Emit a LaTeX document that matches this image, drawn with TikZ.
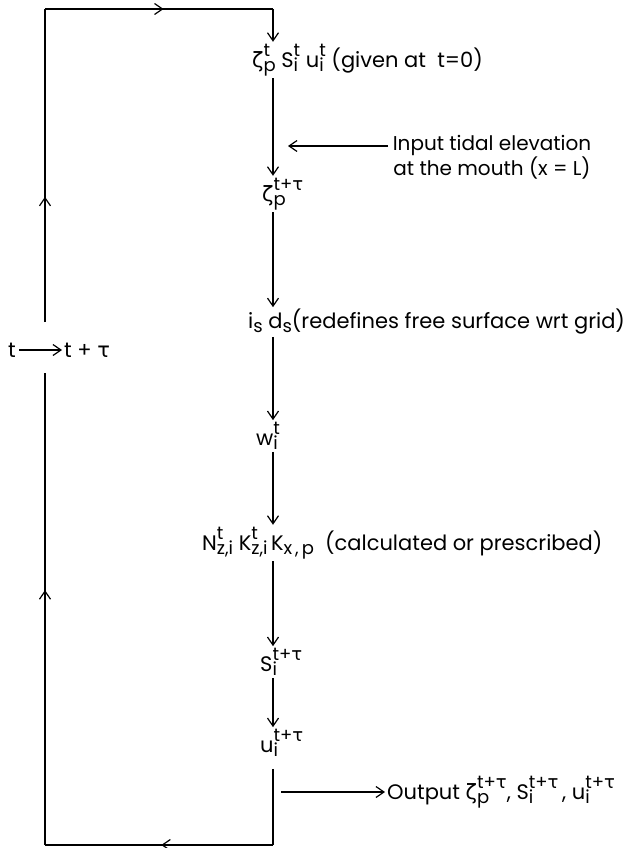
\documentclass[tikz,border=0pt]{standalone}
\usepackage{amsmath}
\usepackage{fontspec}
\setmainfont{Poppins}
\newfontfamily\grk{DejaVu Sans}
\usetikzlibrary{arrows.meta, positioning, calc, decorations.markings}

% stacked super- and subscript, set large as in hand lettering
\newcommand\sts[2]{\mbox{\fontsize{18}{18}\selectfont\ooalign{\raisebox{11pt}{#1}\hfil\cr\raisebox{-4pt}{#2}\hfil\cr}}}
\newcommand\zet{{\grk ζ}}
\newcommand\tu{{\grk τ}}

\begin{document}
\begin{tikzpicture}[
    x=1pt, y=-1pt,
    lbl/.style={inner sep=2pt, anchor=west, font=\fontsize{21}{24}\selectfont},
    flow/.style={-{Straight Barb[length=8pt,width=11pt]}, line width=1.2pt},
    loopline/.style={line width=1.2pt},
    midarr/.style={postaction={decorate}, decoration={markings,
        mark=at position #1 with {\arrow{Straight Barb[length=8pt,width=11pt]}}}}
]
\useasboundingbox (0,0) rectangle (626,848);

% main column of the scheme
\coordinate (col) at (273,0);
\node [lbl] (init) at (250,60) {\zet\sts{t}{p} S\sts{t}{i}\ u\sts{t}{i}\ (given at\ \ t=0)};
\node [lbl] (zp) at (260,194) {\zet\sts{t+\tu}{p}};
\node [lbl] (isd) at (246,322) {i\sts{}{s}\ d\sts{}{s}(redefines free surface wrt grid)};
\node [lbl] (w) at (254,436) {w\sts{t}{i}};
\node [lbl] (nk) at (200,543) {N\sts{t}{z,i}\ K\sts{t}{z,i}\,K\sts{}{x\,,\,p}\ \ (calculated\ or\ prescribed)};
\node [lbl] (s) at (258,662) {S\sts{t+\tu}{i}};
\node [lbl] (u) at (258,743) {u\sts{t+\tu}{i}};

% side input and output
\node [lbl, anchor=center, align=center, font=\fontsize{20}{22}\selectfont] (tide) at (492,157) {Input tidal elevation\\at the mouth (x = L)};
\coordinate (tidein) at (388,146);
\node [lbl] (out) at (385,792) {Output \zet\sts{t+\tu}{p}, S\sts{t+\tu}{i}\,, u\sts{t+\tu}{i}};

% time step on the return loop
\node [lbl, anchor=center] (tnow) at (12,350) {t};
\node [lbl] (tnext) at (62,350) {t + \tu};
\coordinate (gaptop) at (45,322);
\coordinate (gapbot) at (45,373);
\coordinate (tl) at (45,9);
\coordinate (bl) at (45,845);

\draw [flow] (init.south -| col) -- (zp.north -| col);
\draw [flow] (zp.south -| col) -- (isd.north -| col);
\draw [flow] (isd.south -| col) -- (w.north -| col);
\draw [flow] (w.south -| col) -- (nk.north -| col);
\draw [flow] (nk.south -| col) -- (s.north -| col);
\draw [flow] (s.south -| col) -- (u.north -| col);
\draw [flow, shorten >=15pt] (tidein) -- (tidein -| col);
\draw [flow, shorten <=8pt] (out.west -| col) -- (out.west);
\draw [flow, shorten <=1pt] (tnow) -- (tnext);

% return loop
\draw [loopline, shorten <=10pt] (u.south -| col) -- (col |- bl);
\draw [loopline, midarr=0.49] (col |- bl) -- (bl);
\draw [loopline, midarr=0.54] (bl) -- (gapbot);
\draw [loopline, midarr=0.4] (gaptop) -- (tl);
\draw [loopline, midarr=0.52] (tl) -- (col |- tl);
\draw [flow] (col |- tl) -- (init.north -| col);
\end{tikzpicture}
\end{document}
